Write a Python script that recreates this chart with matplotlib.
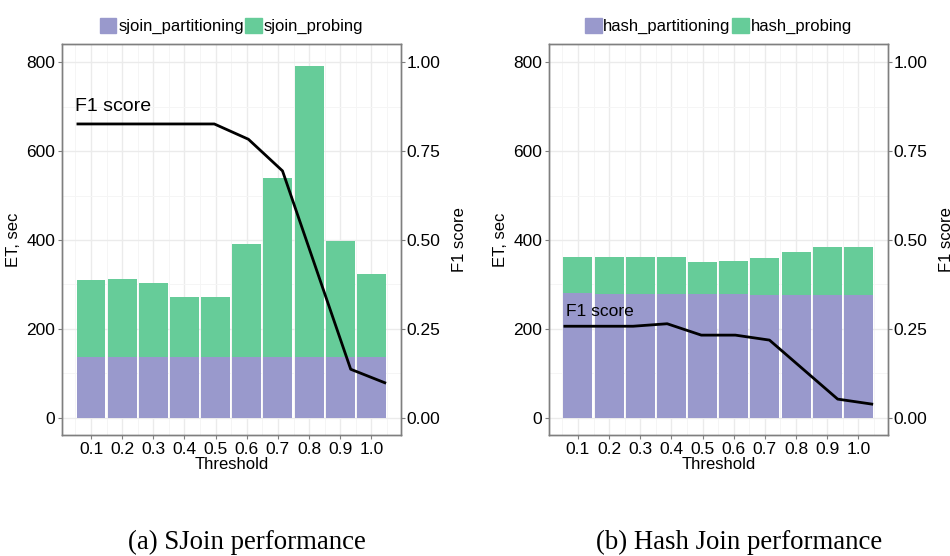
import numpy as np
import matplotlib
matplotlib.use("Agg")
import matplotlib.pyplot as plt
from matplotlib.patches import Patch

plt.rcParams['font.family'] = ['Liberation Sans', 'DejaVu Sans']

thresholds = ['0.1', '0.2', '0.3', '0.4', '0.5', '0.6', '0.7', '0.8', '0.9', '1.0']

# (a) SJoin
sjoin_partitioning = [136, 136, 136, 136, 136, 136, 136, 136, 136, 136]
sjoin_probing = [174, 176, 167, 135, 135, 255, 403, 655, 261, 187]
sjoin_f1 = [0.826, 0.826, 0.826, 0.826, 0.826, 0.783, 0.694, 0.415, 0.136, 0.098]

# (b) Hash Join
hash_partitioning = [280, 278, 278, 278, 278, 278, 276, 276, 276, 276]
hash_probing = [81, 83, 83, 83, 72, 74, 83, 97, 108, 108]
hash_f1 = [0.257, 0.257, 0.257, 0.264, 0.232, 0.232, 0.218, 0.135, 0.052, 0.038]

C_PART = '#9999CC'
C_PROB = '#66CC99'
GREY = '#7F7F7F'

fig = plt.figure(figsize=(9.5, 5.56), dpi=100)


def panel(rect, part, prob, f1, names, f1_text_xy, f1_text_size):
    ax = fig.add_axes(rect)
    x = np.arange(len(thresholds))
    ax.bar(x, part, width=0.93, color=C_PART, zorder=2)
    ax.bar(x, prob, bottom=part, width=0.93, color=C_PROB, zorder=2)
    ax.set_xlim(-0.93, 9.95)
    ax.set_ylim(-39, 841)
    ax.set_xticks(x)
    ax.set_xticklabels(thresholds)
    ax.set_xticks(np.arange(-0.5, 10, 1), minor=True)
    ax.set_yticks([0, 200, 400, 600, 800])
    ax.set_yticks([100, 300, 500, 700], minor=True)
    ax.grid(which='major', color='#EBEBEB', lw=1.0, zorder=0)
    ax.grid(which='minor', color='#F5F5F5', lw=0.7, zorder=0)
    ax.set_axisbelow(True)
    ax.tick_params(which='major', length=3, color=GREY, labelsize=12.5, pad=2)
    ax.tick_params(which='minor', length=0)
    ax.set_xlabel('Threshold', fontsize=12, labelpad=0)
    ax.set_ylabel('ET, sec', fontsize=12, labelpad=4)
    for s in ax.spines.values():
        s.set_color(GREY)
        s.set_linewidth(1.0)

    ax2 = ax.twinx()
    ax2.set_ylim(-0.049, 1.051)
    ax2.set_yticks([0, 0.25, 0.5, 0.75, 1.0])
    ax2.set_yticklabels(['0.00', '0.25', '0.50', '0.75', '1.00'])
    ax2.tick_params(length=3, color=GREY, labelsize=12.5, pad=1)
    ax2.set_ylabel('F1 score', fontsize=12, labelpad=8)
    for s in ax2.spines.values():
        s.set_color(GREY)
        s.set_linewidth(1.0)
    line_x = np.linspace(x[0] - 0.42, x[-1] + 0.43, len(x))
    ax2.plot(line_x, f1, color='black', lw=2, zorder=3)
    ax2.text(f1_text_xy[0], f1_text_xy[1], 'F1 score', fontsize=f1_text_size,
             ha='left', va='center')

    handles = [Patch(color=C_PART), Patch(color=C_PROB)]
    ax.legend(handles, names, loc='lower center', bbox_to_anchor=(0.5, 1.0),
              ncol=2, frameon=False, fontsize=12, handlelength=1.0, handleheight=1.0,
              handletextpad=0.1, columnspacing=0.1, borderaxespad=0.2)
    return ax


panel([0.0653, 0.2176, 0.3568, 0.7033], sjoin_partitioning, sjoin_probing, sjoin_f1,
      ['sjoin_partitioning', 'sjoin_probing'], (-0.5, 0.876), 14)
panel([0.5779, 0.2176, 0.3568, 0.7033], hash_partitioning, hash_probing, hash_f1,
      ['hash_partitioning', 'hash_probing'], (-0.38, 0.298), 12.5)

fig.text(0.260, 0.025, '(a) SJoin performance', family='Liberation Serif',
         fontsize=19.3, ha='center', va='center')
fig.text(0.778, 0.025, '(b) Hash Join performance', family='Liberation Serif',
         fontsize=19.3, ha='center', va='center')

fig.savefig('out.png', dpi=100)
